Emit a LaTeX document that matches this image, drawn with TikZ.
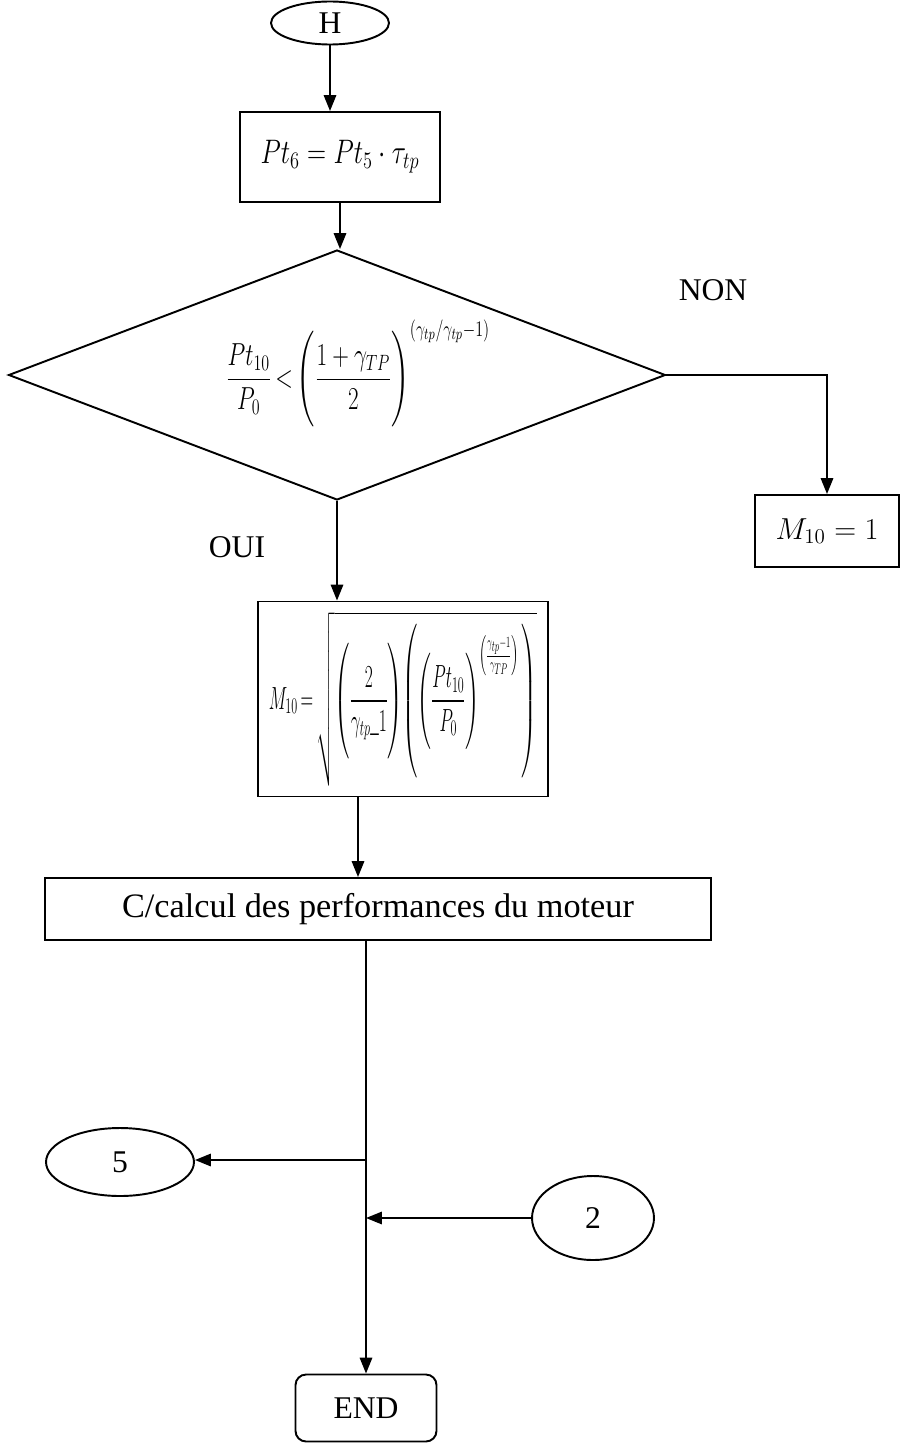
\documentclass[tikz,border=0pt]{standalone}
\usepackage{amsmath}
\usepackage{graphicx}
\usepackage{fontspec}
\setmainfont{Liberation Serif}
\usetikzlibrary{shapes.geometric,arrows.meta}
\tikzset{
  box/.style={draw, line width=1.1pt, rectangle, inner sep=0pt, align=center},
  oval/.style={draw, line width=1.1pt, ellipse, inner sep=0pt},
  dec/.style={draw, line width=1.1pt, diamond, inner sep=0pt, aspect=2.63},
  lbl/.style={inner sep=0pt},
  arr/.style={line width=1.1pt, -{Triangle[length=9pt,width=7pt]}},
  ln/.style={line width=1.1pt}
}
\newcommand{\vstrut}[1]{\rule[\dimexpr-#1/2+0.16cm\relax]{0pt}{#1}}
\begin{document}
\begin{tikzpicture}[x=0.02cm,y=-0.02cm,font=\fontsize{18}{22}\selectfont]
\fill[white] (0,0) rectangle (901,1446);
\useasboundingbox (0,0) rectangle (901,1446);

\node[oval, minimum width=2.36cm, minimum height=0.86cm] (H) at (330,23) {H};
\node[box, minimum width=4cm, minimum height=1.8cm] (pt6) at (340,157)
  {\scalebox{0.87}[1.12]{$Pt_6 = Pt_5\cdot\tau_{tp}$}};
\node[dec, minimum width=13.14cm, minimum height=5cm] (cond) at (337,375) {};
\node[lbl] (condtxt) at (358,375)
  {\scalebox{0.76}[1.05]{$\dfrac{Pt_{10}}{P_0}\mkern-2mu < \mkern-2mu\left(\dfrac{1+\gamma_{TP}}{2}\vstrut{1.95cm}\right)^{\left(\gamma_{tp}\middle/\gamma_{tp}-1\right)}$}};
\node[lbl] (non) at (713,290) {NON};
\node[box, minimum width=2.88cm, minimum height=1.44cm] (m1) at (827,531) {$M_{10}=1$};
\node[lbl] (oui) at (237,547) {OUI};
\node[box, minimum width=5.8cm, minimum height=3.9cm] (m2) at (403,699)
  {\scalebox{0.48}[0.88]{\fontsize{20}{24}\selectfont$M_{10}\mkern-2mu=\mkern-2mu\sqrt{\left(\dfrac{2}{\gamma_{tp}\_1}\vstrut{2.5cm}\right)\mkern-4mu\left(\left(\dfrac{Pt_{10}}{P_0}\vstrut{2.1cm}\right)^{\left(\frac{\gamma_{tp}-1}{\gamma_{TP}}\right)}\vstrut{3.3cm}\right)}$}};
\node[box, minimum width=13.34cm, minimum height=1.24cm, font=\fontsize{19.5}{23}\selectfont] (calc) at (378,909) {C/calcul des performances du moteur};
\node[oval, minimum width=2.96cm, minimum height=1.36cm] (e5) at (120,1162) {5};
\node[oval, minimum width=2.44cm, minimum height=1.68cm] (e2) at (593,1218) {2};
\node[box, rounded corners=6pt, minimum width=2.82cm, minimum height=1.34cm] (endn) at (366,1408) {END};

\coordinate (a3) at (358,796);
\coordinate (j5) at (366,1160);
\coordinate (j2) at (366,1218);

\draw[arr] (H.south) -- (H.south |- pt6.north);
\draw[arr] (pt6.south) -- (pt6.south |- cond.north);
\draw[arr] (cond.east) -| (m1.north);
\draw[arr] (cond.south) -- (cond.south |- m2.north);
\draw[arr] (a3) -- (a3 |- calc.north);
\draw[arr] (calc.south -| endn.north) -- (endn.north);
\draw[arr] (j5) -- (j5 -| e5.east);
\draw[arr] (e2.west) -- (j2);
\end{tikzpicture}
\end{document}
